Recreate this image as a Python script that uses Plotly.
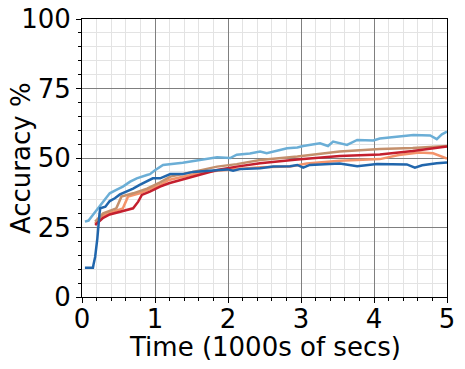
import plotly.graph_objects as go

# accuracy curves, x in 1000s of secs
dark_blue_x = [0.04, 0.15, 0.16, 0.18, 0.21, 0.22, 0.24, 0.25, 0.32, 0.38, 0.45, 0.52, 0.61, 0.70, 0.79, 0.89,
               0.93, 0.97, 1.07, 1.21, 1.38, 1.52, 1.75, 1.99, 2.07, 2.16, 2.44, 2.62, 2.85, 2.95, 3.03, 3.12,
               3.53, 3.77, 4.04, 4.45, 4.56, 4.66, 4.86, 5.0]
dark_blue_y = [10.5, 10.5, 12, 14.4, 21, 25, 30, 31.9, 32.5, 34.5, 35.5, 36.9, 37.9, 39, 40.3, 41.7,
               42.1, 42.7, 42.7, 44.2, 44.2, 45, 45.4, 45.9, 45.4, 46, 46.3, 46.9, 47, 47.5, 46.5, 47.5,
               48, 47, 47.8, 47.7, 46.5, 47.4, 48.1, 48.4]

light_blue_x = [0.04, 0.09, 0.13, 0.20, 0.29, 0.38, 0.47, 0.56, 0.66, 0.75, 0.89, 0.93, 1.0, 1.11, 1.38, 1.62,
                1.85, 2.03, 2.12, 2.3, 2.44, 2.53, 2.67, 2.81, 2.95, 3.03, 3.26, 3.37, 3.44, 3.63, 3.77, 3.99,
                4.08, 4.31, 4.54, 4.77, 4.86, 4.93, 5.0]
light_blue_y = [27.1, 27.5, 28.9, 31.3, 34.5, 37.3, 38.5, 39.7, 41.5, 42.7, 43.9, 44.2, 45.6, 47.5, 48.3, 49.3,
                50.3, 50.0, 51.2, 51.6, 52.3, 51.7, 52.6, 53.5, 53.8, 54.3, 55.3, 54.3, 55.9, 54.7, 56.5, 56.3,
                57, 57.7, 58.3, 58.1, 56.8, 58.5, 59.5]

red_x = [0.18, 0.29, 0.38, 0.56, 0.70, 0.77, 0.82, 0.93, 1.07, 1.19, 1.38, 1.57, 1.85, 2.12, 2.44, 2.95,
         3.53, 4.08, 4.53, 5.0]
red_y = [25.9, 28.5, 29.7, 30.9, 31.9, 34.3, 36.7, 37.9, 39.7, 40.9, 42.3, 43.9, 45.7, 46.9, 48.1, 49.5,
         50.7, 51.3, 52.5, 54.1]

tan_x = [0.18, 0.29, 0.47, 0.54, 0.70, 0.89, 1.07, 1.21, 1.52, 1.85, 2.12, 2.44, 2.95, 3.53, 4.08, 4.53, 5.0]
tan_y = [27.1, 30.1, 31.9, 36.1, 37.3, 39, 41.2, 43.3, 45, 46.9, 47.8, 49.3, 50.5, 52.3, 53.2, 53.6, 54.3]

salmon_x = [0.18, 0.29, 0.56, 0.63, 0.79, 1.07, 1.19, 1.38, 1.62, 1.85, 2.12, 2.44, 2.85, 3.08, 3.53, 4.08,
            4.34, 4.62, 4.81, 5.0]
salmon_y = [26.5, 29.5, 31.9, 36.1, 37.3, 40.3, 42.1, 43.3, 44.7, 45.4, 45.9, 46.7, 46.9, 48, 49, 49.6,
            51.1, 52, 51.7, 49.8]

x_ticks = [0, 1, 2, 3, 4, 5]
y_ticks = [0, 25, 50, 75, 100]

series = [
    (salmon_x, salmon_y, '#f4936a'),
    (tan_x, tan_y, '#c4906c'),
    (red_x, red_y, '#c41f2e'),
    (light_blue_x, light_blue_y, '#6baed6'),
    (dark_blue_x, dark_blue_y, '#2166ac'),
]

fig = go.Figure()
for xs, ys, col in series:
    fig.add_trace(go.Scatter(x=xs, y=ys, mode='lines', line=dict(color=col, width=2.5), showlegend=False))

axis_common = dict(showline=True, linecolor='black', linewidth=1, mirror=True,
                   ticks='outside', ticklen=5, tickcolor='black', automargin=False,
                   showgrid=True, gridcolor='#7f7f7f', gridwidth=1, zeroline=False,
                   tickfont=dict(family='DejaVu Sans', size=26, color='black'))

fig.update_xaxes(range=[0, 5], tickvals=x_ticks, ticklabelstandoff=-6,
                 minor=dict(dtick=0.2, ticks='outside', ticklen=3, tickcolor='black',
                            showgrid=True, gridcolor='#e3e3e3', gridwidth=1),
                 **axis_common)
fig.update_yaxes(range=[0, 100], tickvals=y_ticks,
                 minor=dict(dtick=5, ticks='outside', ticklen=3, tickcolor='black',
                            showgrid=True, gridcolor='#e3e3e3', gridwidth=1),
                 **axis_common)

fig.add_annotation(text='Time (1000s of secs)', xref='paper', yref='paper', x=0.5, y=-0.18,
                   xanchor='center', yanchor='middle', showarrow=False,
                   font=dict(family='DejaVu Sans', size=26, color='black'))
fig.add_annotation(text='Accuracy %', xref='paper', yref='paper', x=-0.167, y=0.5, textangle=-90,
                   xanchor='center', yanchor='middle', showarrow=False,
                   font=dict(family='DejaVu Sans', size=26, color='black'))

fig.update_layout(width=465, height=369, margin=dict(l=82, r=18, t=19, b=72),
                  plot_bgcolor='white', paper_bgcolor='white')

# drop the default page margin so the figure sits at the window corner
fig.write_html("out.html", config={'displayModeBar': False},
               post_script="document.body.style.margin='0';")
